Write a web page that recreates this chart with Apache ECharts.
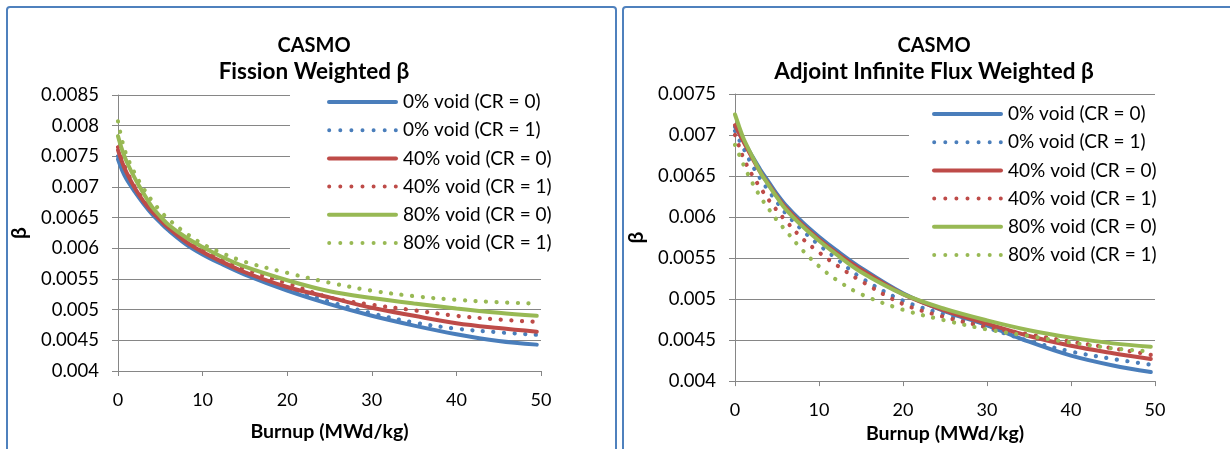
<!DOCTYPE html>
<html><head><meta charset="utf-8">
<script src="https://cdn.jsdelivr.net/npm/echarts@6/dist/echarts.min.js"></script>
<style>html,body{margin:0;padding:0;background:#fff}#c{width:1230px;height:449px}</style>
</head><body><div id="c"></div>
<script>
// Burnup (MWd/kg)
const burnup = [0, 0.5, 1, 2, 3, 4, 5, 6, 8, 10, 12, 15, 20, 25, 30, 35, 40, 45, 49.5];
const seriesNames = ['0% void (CR = 0)', '0% void (CR = 1)', '40% void (CR = 0)', '40% void (CR = 1)', '80% void (CR = 0)', '80% void (CR = 1)'];
const titleTop = 'CASMO';
const titleLeftSub = 'Fission Weighted β';
const titleRightSub = 'Adjoint Infinite Flux Weighted β';
const xName = 'Burnup (MWd/kg)';
const yName = 'β';
// Fission weighted beta
const fis0cr0  = [0.00745, 0.00727, 0.00713, 0.00692, 0.00673, 0.00656, 0.00642, 0.00629, 0.00607, 0.0059, 0.00576, 0.00557, 0.00531, 0.00509, 0.0049, 0.00474, 0.0046, 0.00449, 0.00443];
const fis0cr1  = [0.0075, 0.00731, 0.00716, 0.00694, 0.00675, 0.00658, 0.00644, 0.00631, 0.00609, 0.00592, 0.00578, 0.0056, 0.00535, 0.00513, 0.00494, 0.00479, 0.00469, 0.00463, 0.00459];
const fis40cr0 = [0.0076, 0.0074, 0.00724, 0.00698, 0.00677, 0.0066, 0.00646, 0.00633, 0.00611, 0.00594, 0.0058, 0.00561, 0.00537, 0.0052, 0.00503, 0.0049, 0.00478, 0.0047, 0.00464];
const fis40cr1 = [0.00765, 0.00744, 0.00727, 0.007, 0.0068, 0.00663, 0.00649, 0.00636, 0.00615, 0.00598, 0.00584, 0.00566, 0.00543, 0.0052, 0.00508, 0.00499, 0.0049, 0.00484, 0.0048];
const fis80cr0 = [0.00783, 0.0076, 0.00742, 0.00714, 0.0069, 0.00668, 0.00652, 0.00638, 0.00618, 0.00602, 0.00588, 0.0057, 0.00548, 0.0053, 0.00519, 0.0051, 0.00502, 0.00495, 0.0049];
const fis80cr1 = [0.00807, 0.00775, 0.00752, 0.00722, 0.00698, 0.00678, 0.00661, 0.00647, 0.00625, 0.00607, 0.00594, 0.00578, 0.0056, 0.00544, 0.00531, 0.00522, 0.00516, 0.00512, 0.0051];
// Adjoint infinite flux weighted beta
const adj0cr0  = [0.0071, 0.00702, 0.00693, 0.00675, 0.00658, 0.00643, 0.00628, 0.00615, 0.00594, 0.00576, 0.0056, 0.00538, 0.00507, 0.00485, 0.00468, 0.00448, 0.00431, 0.00419, 0.00411];
const adj0cr1  = [0.00705, 0.00694, 0.00684, 0.00664, 0.00647, 0.00632, 0.00618, 0.00605, 0.00584, 0.00566, 0.0055, 0.00526, 0.00498, 0.00481, 0.00465, 0.00449, 0.00436, 0.00427, 0.0042];
const adj40cr0 = [0.00712, 0.00702, 0.00692, 0.00673, 0.00655, 0.0064, 0.00625, 0.00612, 0.00591, 0.00573, 0.00557, 0.00536, 0.00506, 0.00486, 0.0047, 0.00455, 0.00443, 0.00434, 0.00427];
const adj40cr1 = [0.007, 0.00686, 0.00672, 0.00652, 0.00636, 0.00621, 0.00608, 0.00596, 0.00574, 0.00557, 0.00542, 0.00522, 0.00494, 0.00478, 0.00466, 0.00457, 0.00448, 0.0044, 0.00432];
const adj80cr0 = [0.00725, 0.0071, 0.00696, 0.00675, 0.00655, 0.00639, 0.00624, 0.0061, 0.00589, 0.00571, 0.00555, 0.00533, 0.00506, 0.00488, 0.00474, 0.00462, 0.00453, 0.00446, 0.00442];
const adj80cr1 = [0.00688, 0.00676, 0.00664, 0.00643, 0.00625, 0.0061, 0.00596, 0.00584, 0.0056, 0.0054, 0.00524, 0.00506, 0.00487, 0.00474, 0.00463, 0.00455, 0.00447, 0.0044, 0.00436];

const leftSets = [fis0cr0, fis0cr1, fis40cr0, fis40cr1, fis80cr0, fis80cr1];
const rightSets = [adj0cr0, adj0cr1, adj40cr0, adj40cr1, adj80cr0, adj80cr1];
const colors = ['#4a7ebb', '#4a7ebb', '#be4b48', '#be4b48', '#98b954', '#98b954'];
const dotted = [false, true, false, true, false, true];

const FONT = 'Lato';
const chart = echarts.init(document.getElementById('c'), null, {renderer: 'canvas'});

// legend icons: a round-capped bar and a row of round dots (71 x 4 box)
const solidIcon = 'path://M2,0 H69 A2,2 0 0 1 69,4 H2 A2,2 0 0 1 2,0 Z';
let dotPath = 'path://';
for (let k = 0; k < 7; k++) { const cx = 2 + k * 11.1; dotPath += `M${cx - 2},2 a2,2 0 1,0 4,0 a2,2 0 1,0 -4,0 `; }
const dotIcon = dotPath;

function mkSeries(sets, idx) {
  return sets.map((vals, i) => ({
    name: seriesNames[i], type: 'line', xAxisIndex: idx, yAxisIndex: idx,
    data: burnup.map((x, k) => [x, vals[k]]),
    showSymbol: false, symbol: 'none', smooth: 0.35,
    lineStyle: dotted[i]
      ? {color: colors[i], width: 4.2, type: [0.1, 10.5], cap: 'round'}
      : {color: colors[i], width: 4, cap: 'round'},
    itemStyle: {color: colors[i]},
    emphasis: {disabled: true}, animation: false
  }));
}
function mkX(gi, nameGap) {
  return {gridIndex: gi, type: 'value', min: 0, max: 50, interval: 10,
    name: xName, nameLocation: 'middle', nameGap: nameGap,
    nameTextStyle: {fontFamily: FONT, fontWeight: 'bold', fontSize: 19.5, color: '#000'},
    axisLine: {show: true, lineStyle: {color: '#868686', width: 1}},
    axisTick: {show: true, length: 5, lineStyle: {color: '#868686'}},
    axisLabel: {fontFamily: FONT, fontSize: 18, color: '#000', margin: 20},
    splitLine: {show: false}};
}
function mkY(gi, max) {
  return {gridIndex: gi, type: 'value', min: 0.004, max: max, interval: 0.0005,
    name: yName, nameLocation: 'middle', nameGap: 88, nameRotate: 90,
    nameTextStyle: {fontFamily: FONT, fontWeight: 'bold', fontSize: 21, color: '#000'},
    axisLine: {show: true, lineStyle: {color: '#868686', width: 1}},
    axisTick: {show: true, length: 6, lineStyle: {color: '#868686'}},
    axisLabel: {fontFamily: FONT, fontSize: 18.5, color: '#000', margin: 19,
      formatter: v => String(parseFloat(v.toFixed(4)))},
    splitLine: {show: true, lineStyle: {color: '#868686', width: 1}}};
}
function mkLegend(left, top, padLeft) {
  return {orient: 'vertical', left: left, top: top,
    data: seriesNames.map((n, i) => ({name: n, icon: dotted[i] ? dotIcon : solidIcon, itemStyle: {color: colors[i]}})),
    backgroundColor: '#fff', padding: [6, 12, 10, padLeft],
    itemWidth: 71, itemHeight: 4, itemGap: 6.2, selectedMode: false,
    textStyle: {fontFamily: FONT, fontSize: 19, color: '#000', lineHeight: 22}};
}
function mkTitle(sub, left) {
  return {text: `{a|${titleTop}}\n{b|${sub}}`, left: left, top: 28, textAlign: 'center',
    textStyle: {rich: {
      a: {fontFamily: FONT, fontWeight: 'bold', fontSize: 20, color: '#000', lineHeight: 26, align: 'center'},
      b: {fontFamily: FONT, fontWeight: 'bold', fontSize: 22.5, color: '#000', lineHeight: 26, align: 'center'}}}};
}

chart.setOption({
  animation: false,
  title: [mkTitle(titleLeftSub, 309), mkTitle(titleRightSub, 929)],
  grid: [
    {left: 118, top: 95, width: 423, height: 276},
    {left: 735, top: 94, width: 420, height: 293}
  ],
  xAxis: [mkX(0, 51), mkX(1, 39)],
  yAxis: [mkY(0, 0.0085), mkY(1, 0.0075)],
  legend: [mkLegend(290, 85, 37), mkLegend(909, 97, 23)],
  series: mkSeries(leftSets, 0).concat(mkSeries(rightSets, 1)),
  graphic: [
    {type: 'rect', shape: {x: 7, y: 7, width: 609, height: 470, r: 3}, style: {fill: 'none', stroke: '#4f81bd', lineWidth: 2}, z: 100, silent: true},
    {type: 'rect', shape: {x: 623, y: 7, width: 640, height: 470, r: 3}, style: {fill: 'none', stroke: '#4f81bd', lineWidth: 2}, z: 100, silent: true}
  ]
});
</script></body></html>
